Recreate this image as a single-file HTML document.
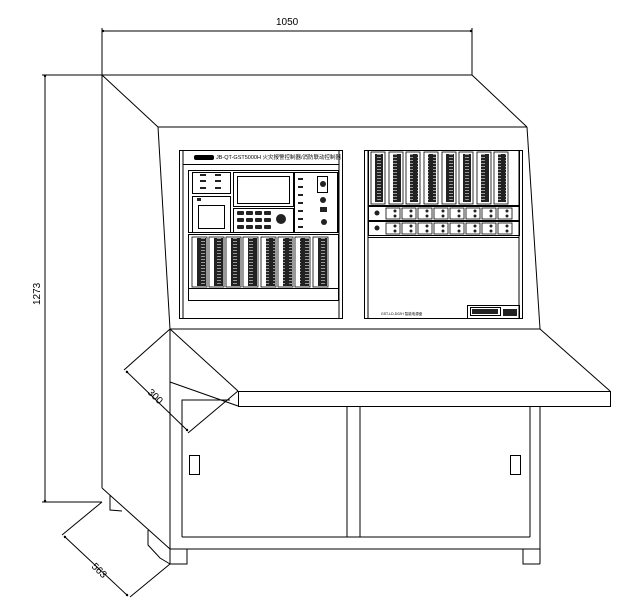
<!DOCTYPE html>
<html><head><meta charset="utf-8"><style>
html,body{margin:0;padding:0;background:#fff;}
svg{display:block;font-family:"Liberation Sans","Noto Sans CJK SC",sans-serif;}
</style></head><body>
<svg width="635" height="612" viewBox="0 0 635 612" xmlns="http://www.w3.org/2000/svg">
<defs>
<pattern id="mod" width="8" height="3" patternUnits="userSpaceOnUse">
<rect width="8" height="3" fill="#222"/><rect x="1" y="1" width="4" height="1" fill="#999"/>
</pattern>
</defs>
<g fill="none" stroke="#000" stroke-width="1">
<line x1="102" y1="31" x2="472" y2="31"/>
<line x1="102" y1="28" x2="102" y2="75"/>
<line x1="472" y1="28" x2="472" y2="75"/>
<line x1="45" y1="75" x2="45" y2="502"/>
<line x1="42" y1="75" x2="102" y2="75"/>
<line x1="42" y1="502" x2="102" y2="502"/>
<line x1="102" y1="75" x2="472" y2="75"/>
<line x1="102" y1="75" x2="102" y2="488"/>
<line x1="102" y1="75" x2="158" y2="127"/>
<line x1="472" y1="75" x2="527" y2="127"/>
<line x1="158" y1="127" x2="527" y2="127"/>
<line x1="158" y1="127" x2="170" y2="329"/>
<line x1="527" y1="127" x2="540" y2="329"/>
<rect x="179.5" y="150.5" width="163" height="168"/>
<line x1="183" y1="151" x2="183" y2="318"/>
<line x1="339" y1="151" x2="339" y2="318"/>
<line x1="183" y1="164.5" x2="339" y2="164.5"/>
<rect x="188.5" y="170.5" width="150" height="62"/>
<rect x="192.5" y="172.5" width="38" height="21"/>
<rect x="192.5" y="196.5" width="38" height="36"/>
<rect x="198.5" y="205.5" width="26" height="23"/>
<rect x="233.5" y="172.5" width="60" height="34"/>
<rect x="237.5" y="176.5" width="52" height="27"/>
<rect x="233.5" y="208.5" width="60" height="24"/>
<rect x="294.5" y="172.5" width="43" height="60"/>
<rect x="188.5" y="234.5" width="150" height="54"/>
<rect x="188.5" y="288.5" width="150" height="12"/>
<rect x="364.5" y="150.5" width="158" height="168"/>
<line x1="368" y1="151" x2="368" y2="318"/>
<line x1="519" y1="151" x2="519" y2="318"/>
<rect x="368.5" y="150.5" width="151" height="55"/>
<rect x="368.5" y="206.5" width="151" height="14"/>
<rect x="368.5" y="221.5" width="151" height="14"/>
<line x1="368" y1="237.5" x2="519" y2="237.5"/>
<rect x="467.5" y="305.5" width="52" height="13"/>
<rect x="470.5" y="307.5" width="30" height="8"/>
<line x1="170" y1="329" x2="540" y2="329"/>
<line x1="170" y1="329" x2="238" y2="391"/>
<line x1="540" y1="329" x2="610" y2="391"/>
<rect x="238.5" y="391.5" width="372" height="15"/>
<line x1="170" y1="382" x2="238" y2="406"/>
<line x1="170" y1="329" x2="170" y2="564"/>
<line x1="540" y1="406" x2="540" y2="564"/>
<polyline points="182,406 182,400 230,400"/>
<line x1="182" y1="400" x2="182" y2="537"/>
<line x1="182" y1="537" x2="530" y2="537"/>
<line x1="530" y1="406" x2="530" y2="537"/>
<line x1="347" y1="406" x2="347" y2="537"/>
<line x1="360" y1="406" x2="360" y2="537"/>
<line x1="170" y1="549" x2="540" y2="549"/>
<polyline points="170,564 187,564 187,549"/>
<polyline points="523,549 523,564 540,564"/>
<rect x="189.5" y="455.5" width="10" height="19"/>
<rect x="510.5" y="455.5" width="10" height="19"/>
<line x1="102" y1="488" x2="170" y2="549"/>
<polyline points="110,495 110,510 122,511"/>
<polyline points="148,530 148,545 160,558 170,564"/>
<line x1="170" y1="329" x2="124" y2="370"/>
<line x1="238" y1="391" x2="188" y2="433"/>
<line x1="126" y1="371" x2="188" y2="431"/>
<line x1="102" y1="502" x2="62" y2="535"/>
<line x1="170" y1="564" x2="130" y2="597"/>
<line x1="64" y1="536" x2="128" y2="596"/>
</g>
<g fill="#000">
<circle cx="45" cy="76" r="1.2"/><circle cx="45" cy="501" r="1.2"/>
<circle cx="103" cy="31" r="1.2"/><circle cx="471" cy="31" r="1.2"/>
<circle cx="127" cy="372" r="1.2"/><circle cx="187" cy="430" r="1.2"/>
<circle cx="65" cy="537" r="1.2"/><circle cx="127" cy="595" r="1.2"/>
<rect x="194" y="155" width="20" height="5" rx="2"/>
</g>
<g>
<rect x="197" y="238" width="9" height="48" fill="url(#mod)"/>
<rect x="214" y="238" width="9" height="48" fill="url(#mod)"/>
<rect x="231" y="238" width="9" height="48" fill="url(#mod)"/>
<rect x="248" y="238" width="9" height="48" fill="url(#mod)"/>
<rect x="266" y="238" width="9" height="48" fill="url(#mod)"/>
<rect x="283" y="238" width="9" height="48" fill="url(#mod)"/>
<rect x="300" y="238" width="9" height="48" fill="url(#mod)"/>
<rect x="318" y="238" width="9" height="48" fill="url(#mod)"/>
</g>
<g fill="none" stroke="#000" stroke-width="0.8">
<rect x="192" y="237" width="15" height="50"/><rect x="209" y="237" width="15" height="50"/>
<rect x="226" y="237" width="15" height="50"/><rect x="243" y="237" width="15" height="50"/>
<rect x="261" y="237" width="15" height="50"/><rect x="278" y="237" width="15" height="50"/>
<rect x="295" y="237" width="15" height="50"/><rect x="313" y="237" width="15" height="50"/>
<rect x="371" y="152" width="14" height="52"/><rect x="389" y="152" width="14" height="52"/>
<rect x="406" y="152" width="14" height="52"/><rect x="424" y="152" width="14" height="52"/>
<rect x="442" y="152" width="14" height="52"/><rect x="459" y="152" width="14" height="52"/>
<rect x="477" y="152" width="14" height="52"/><rect x="494" y="152" width="14" height="52"/>
</g>
<g>
<rect x="375" y="154" width="8" height="48" fill="url(#mod)"/>
<rect x="393" y="154" width="8" height="48" fill="url(#mod)"/>
<rect x="410" y="154" width="8" height="48" fill="url(#mod)"/>
<rect x="428" y="154" width="8" height="48" fill="url(#mod)"/>
<rect x="446" y="154" width="8" height="48" fill="url(#mod)"/>
<rect x="463" y="154" width="8" height="48" fill="url(#mod)"/>
<rect x="481" y="154" width="8" height="48" fill="url(#mod)"/>
<rect x="498" y="154" width="8" height="48" fill="url(#mod)"/>
</g>
<g fill="none" stroke="#000" stroke-width="0.8">
<rect x="386" y="208" width="14" height="11"/><rect x="402" y="208" width="14" height="11"/>
<rect x="418" y="208" width="14" height="11"/><rect x="434" y="208" width="14" height="11"/>
<rect x="450" y="208" width="14" height="11"/><rect x="466" y="208" width="14" height="11"/>
<rect x="482" y="208" width="14" height="11"/><rect x="498" y="208" width="14" height="11"/>
<rect x="386" y="223" width="14" height="11"/><rect x="402" y="223" width="14" height="11"/>
<rect x="418" y="223" width="14" height="11"/><rect x="434" y="223" width="14" height="11"/>
<rect x="450" y="223" width="14" height="11"/><rect x="466" y="223" width="14" height="11"/>
<rect x="482" y="223" width="14" height="11"/><rect x="498" y="223" width="14" height="11"/>
</g>
<g fill="#222">
<circle cx="377" cy="213" r="2.5"/><circle cx="377" cy="228" r="2.5"/>
<circle cx="395" cy="211" r="1.5"/><circle cx="395" cy="216" r="1.5"/><circle cx="411" cy="211" r="1.5"/><circle cx="411" cy="216" r="1.5"/>
<circle cx="427" cy="211" r="1.5"/><circle cx="427" cy="216" r="1.5"/><circle cx="443" cy="211" r="1.5"/><circle cx="443" cy="216" r="1.5"/>
<circle cx="459" cy="211" r="1.5"/><circle cx="459" cy="216" r="1.5"/><circle cx="475" cy="211" r="1.5"/><circle cx="475" cy="216" r="1.5"/>
<circle cx="491" cy="211" r="1.5"/><circle cx="491" cy="216" r="1.5"/><circle cx="507" cy="211" r="1.5"/><circle cx="507" cy="216" r="1.5"/>
<circle cx="395" cy="226" r="1.5"/><circle cx="395" cy="231" r="1.5"/><circle cx="411" cy="226" r="1.5"/><circle cx="411" cy="231" r="1.5"/>
<circle cx="427" cy="226" r="1.5"/><circle cx="427" cy="231" r="1.5"/><circle cx="443" cy="226" r="1.5"/><circle cx="443" cy="231" r="1.5"/>
<circle cx="459" cy="226" r="1.5"/><circle cx="459" cy="231" r="1.5"/><circle cx="475" cy="226" r="1.5"/><circle cx="475" cy="231" r="1.5"/>
<circle cx="491" cy="226" r="1.5"/><circle cx="491" cy="231" r="1.5"/><circle cx="507" cy="226" r="1.5"/><circle cx="507" cy="231" r="1.5"/>
<rect x="237" y="211" width="7" height="4" rx="1"/><rect x="246" y="211" width="7" height="4" rx="1"/><rect x="255" y="211" width="7" height="4" rx="1"/><rect x="264" y="211" width="7" height="4" rx="1"/>
<rect x="237" y="218" width="7" height="4" rx="1"/><rect x="246" y="218" width="7" height="4" rx="1"/><rect x="255" y="218" width="7" height="4" rx="1"/><rect x="264" y="218" width="7" height="4" rx="1"/>
<rect x="237" y="225" width="7" height="4" rx="1"/><rect x="246" y="225" width="7" height="4" rx="1"/><rect x="255" y="225" width="7" height="4" rx="1"/><rect x="264" y="225" width="7" height="4" rx="1"/>
<circle cx="281" cy="219" r="5"/>
<circle cx="323" cy="184" r="3"/><circle cx="323" cy="200" r="3"/><circle cx="324" cy="222" r="3"/>
<rect x="320" y="207" width="7" height="5"/>
<rect x="200" y="180" width="6" height="2"/><rect x="200" y="187" width="6" height="2"/><rect x="200" y="174" width="6" height="2"/>
<rect x="215" y="180" width="6" height="2"/><rect x="215" y="187" width="6" height="2"/><rect x="215" y="174" width="6" height="2"/>
<rect x="197" y="198" width="4" height="3"/>
<rect x="298" y="178" width="5" height="2"/><rect x="298" y="186" width="5" height="2"/><rect x="298" y="194" width="5" height="2"/><rect x="298" y="202" width="5" height="2"/><rect x="298" y="210" width="5" height="2"/><rect x="298" y="218" width="5" height="2"/><rect x="298" y="226" width="5" height="2"/>
<rect x="472" y="309" width="26" height="5"/><rect x="503" y="309" width="14" height="7"/>
</g>
<rect x="317.5" y="176.5" width="10" height="16" fill="none" stroke="#000"/>
<g font-size="10" fill="#000">
<text x="276" y="25">1050</text>
<text transform="translate(40,305) rotate(-90)">1273</text>
<text transform="translate(147,393) rotate(44)">300</text>
<text transform="translate(91,567) rotate(44)">563</text>
</g>
<text x="216" y="159" font-size="5.5" fill="#000">JB-QT-GST5000H 火灾报警控制器/消防联动控制器</text>
<text x="381" y="315" font-size="3.5" fill="#000">GST-LD-D02H 智能电源盘</text>
</svg>
</body></html>
